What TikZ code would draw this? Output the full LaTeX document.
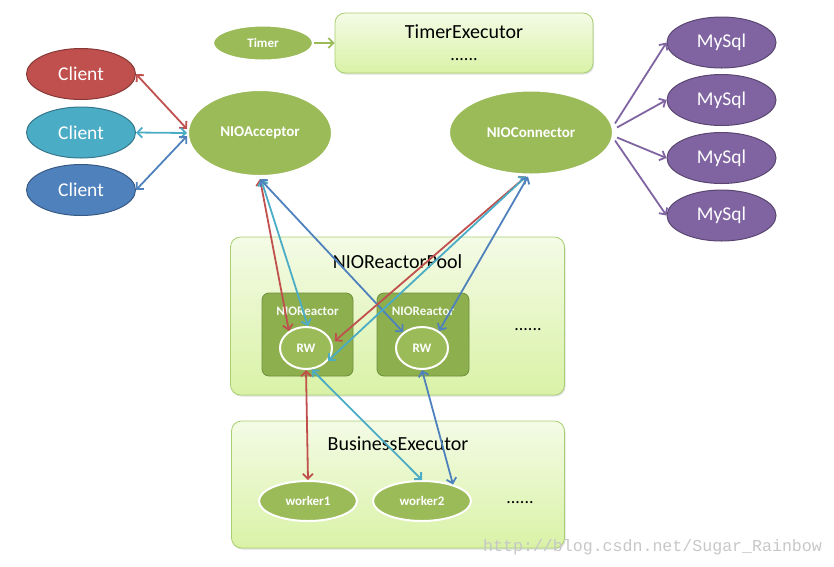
\documentclass[tikz,border=0pt]{standalone}
\usepackage{fontspec}
\setmainfont{Carlito}
\newfontfamily\wmfont{Liberation Mono}
\usetikzlibrary{shapes.geometric,arrows.meta,shadows,calc}
\definecolor{cred}{HTML}{C0504D}
\definecolor{ccyan}{HTML}{4BACC6}
\definecolor{cblue}{HTML}{4F81BD}
\definecolor{cpurple}{HTML}{8064A2}
\definecolor{cgreen}{HTML}{9BBB59}
\definecolor{boxtop}{HTML}{F4FBE6}
\definecolor{boxbot}{HTML}{D9F2A6}
\definecolor{boxline}{HTML}{A8CF70}
\definecolor{reactfill}{HTML}{8DAF4E}
\definecolor{reactline}{HTML}{6E8F3A}
\tikzset{
  container/.style={rectangle, rounded corners=10pt, top color=boxtop, bottom color=boxbot, draw=boxline, line width=0.8pt, drop shadow={opacity=0.25, shadow xshift=1pt, shadow yshift=-1.5pt}},
  reactor/.style={rectangle, rounded corners=7pt, fill=reactfill, draw=reactline, line width=0.8pt},
  greenell/.style={ellipse, fill=cgreen, draw=white, line width=2pt, inner sep=0pt, text=white, font=\bfseries\fontsize{13}{15}\selectfont, drop shadow={opacity=0.2, shadow xshift=0.5pt, shadow yshift=-0.5pt}},
  bigell/.style={greenell, font=\bfseries\fontsize{15}{18}\selectfont},
  colell/.style={ellipse, inner sep=0pt, minimum width=109pt, minimum height=51pt, line width=1pt, text=white, font=\fontsize{19.5}{22}\selectfont},
  title/.style={font=\fontsize{20}{24}\selectfont, text=black, inner sep=0pt},
  dots/.style={font=\fontsize{18}{20}\selectfont, text=black, inner sep=0pt},
  rlabel/.style={font=\bfseries\fontsize{13}{15}\selectfont, text=white!92!cgreen, inner sep=0pt},
  conn/.style={line width=1.8pt, {Straight Barb[length=5pt,width=10pt]}-{Straight Barb[length=5pt,width=10pt]}},
  oneway/.style={line width=1.8pt, -{Straight Barb[length=5pt,width=10pt]}}
}
\begin{document}
\begin{tikzpicture}[x=1pt,y=-1pt]
\useasboundingbox (0,0) rectangle (834,566);

% containers
\node[container, minimum width=258pt, minimum height=60pt] (tex) at (464,43) {};
\node[title] (tex-t) at (464,32) {TimerExecutor};
\node[dots] (tex-d) at (464,60) {......};

\node[container, minimum width=334pt, minimum height=158pt] (pool) at (397.5,316) {};
\node[title] (pool-t) at (397.5,262) {NIOReactorPool};
\node[dots] (pool-d) at (528,330) {......};

\node[container, minimum width=333pt, minimum height=127pt] (biz) at (398,484.5) {};
\node[title] (biz-t) at (398,444) {BusinessExecutor};
\node[dots] (biz-d) at (520,503) {......};

% reactors
\node[reactor, minimum width=91pt, minimum height=83pt] (r1) at (307.5,334.5) {};
\node[reactor, minimum width=92pt, minimum height=83pt] (r2) at (423,334.5) {};
\node[rlabel] (r1-t) at (307.5,311) {NIOReactor};
\node[rlabel] (r2-t) at (423,311) {NIOReactor};
\node[greenell, minimum width=52pt, minimum height=42pt, drop shadow={opacity=0}] (rw1) at (306,348) {RW};
\node[greenell, minimum width=52pt, minimum height=42pt, drop shadow={opacity=0}] (rw2) at (422,348) {RW};

% workers
\node[greenell, minimum width=98pt, minimum height=40pt] (w1) at (308,501) {worker1};
\node[greenell, minimum width=98pt, minimum height=40pt] (w2) at (422,501) {worker2};

% top ellipses
\node[greenell, minimum width=100pt, minimum height=35pt] (timer) at (263,43) {Timer};
\node[bigell, minimum width=144pt, minimum height=86pt] (acc) at (260,133) {NIOAcceptor};
\node[bigell, minimum width=164pt, minimum height=84pt] (con) at (531,132.5) {NIOConnector};

% clients
\node[colell, fill=cred, draw=cred!70!black] (c1) at (81,74) {Client};
\node[colell, fill=ccyan, draw=ccyan!70!black] (c2) at (81,132.5) {Client};
\node[colell, fill=cblue, draw=cblue!70!black] (c3) at (81,190) {Client};

% mysql
\node[colell, fill=cpurple, draw=cpurple!70!black] (m1) at (721.5,42.5) {MySql};
\node[colell, fill=cpurple, draw=cpurple!70!black] (m2) at (721.5,100) {MySql};
\node[colell, fill=cpurple, draw=cpurple!70!black] (m3) at (721.5,158) {MySql};
\node[colell, fill=cpurple, draw=cpurple!70!black] (m4) at (721.5,215.5) {MySql};

% connectors
\draw[oneway, cgreen] (timer.east) -- (tex.west);

\draw[conn, cred] (c1.east) -- ($(acc.west)+(0,-4)$);
\draw[conn, ccyan] (c2.east) -- (acc.west);
\draw[conn, cblue] (c3.east) -- ($(acc.west)+(0,3)$);

\draw[oneway, cpurple] ($(con.east)+(1,-9)$) -- (m1.west);
\draw[oneway, cpurple] ($(con.east)+(3,-5)$) -- (m2.west);
\draw[oneway, cpurple] ($(con.east)+(3,5)$) -- (m3.west);
\draw[oneway, cpurple] ($(con.east)+(1,8)$) -- (m4.west);

\draw[conn, cred] ($(acc.south)+(0,2)$) -- (rw1.135);
\draw[conn, ccyan] ($(acc.south)+(1,2)$) -- (rw1.85);
\draw[conn, cblue] ($(acc.south)+(0,2)$) -- (rw2.140);

\draw[conn, cred] ($(con.south)+(-5,1)$) -- ($(rw1.15)+(3,0)$);
\draw[conn, ccyan] ($(con.south)+(-5,1)$) -- (rw1.-30);
\draw[conn, cblue] ($(con.south)+(-3,1)$) -- (rw2.45);

\draw[conn, cred] (rw1.south) -- (w1.north);
\draw[conn, ccyan] (rw1.-75) -- (w2.north);
\draw[conn, cblue] (rw2.south) -- (w2.28);

% watermark
\node[anchor=west, inner sep=0pt, font=\wmfont\fontsize{16.6}{18}\selectfont, text=black!22] (wm) at (483,547) {http://blog.csdn.net/Sugar\_Rainbow};
\end{tikzpicture}
\end{document}
